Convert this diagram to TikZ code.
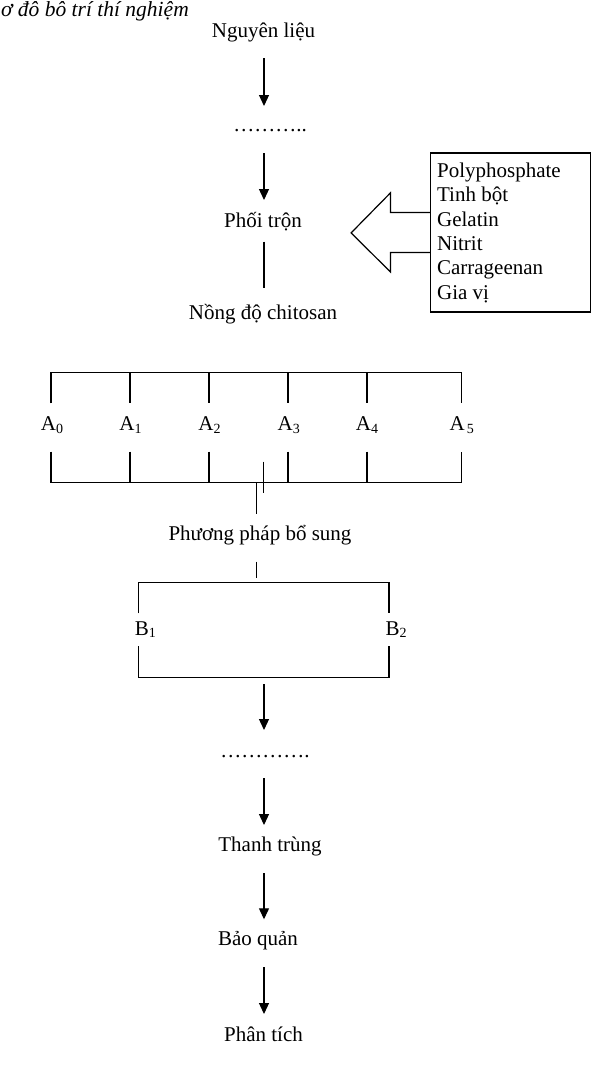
\documentclass[tikz,border=0pt]{standalone}
\usepackage{fontspec}
\setmainfont{Liberation Serif}
\usetikzlibrary{arrows.meta,calc}
\newcommand{\sbs}[2]{#1\raisebox{-2.5pt}{\fontsize{14}{14}\selectfont #2}}
\begin{document}
\begin{tikzpicture}[x=1pt,y=-1pt,line width=1.2pt,
  txt/.style={font=\fontsize{21}{25}\selectfont,inner sep=0pt,anchor=base},
  arr/.style={-{Triangle[width=10pt,length=11pt]}}]
\useasboundingbox (0,0) rectangle (599,1080);
% title
\node[font=\fontsize{21.5}{25}\selectfont\itshape,inner sep=0pt,anchor=base west] (title) at (0.5,16) {ơ đô bô trí thí nghiệm};
% column axis
\coordinate (axis) at (264,0);
% main column nodes
\node[txt] (n1) at (263.5,37) {Nguyên liệu};
\node[txt] (d1) at (270,131.7) {………..};
\node[txt] (n2) at (263,227) {Phối trộn};
\node[txt] (n3) at (263,319) {Nồng độ chitosan};
\node[txt] (n4) at (260,540) {Phương pháp bổ sung};
\node[txt] (d2) at (265,757.7) {………….};
\node[txt] (n5) at (270,851.7) {Thanh trùng};
\node[txt] (n6) at (258,945.7) {Bảo quản};
\node[txt] (n7) at (263.5,1041) {Phân tích};
% arrows
\draw[arr] ([yshift=-21pt]axis |- n1.base) -- ([yshift=25.7pt]axis |- d1.base);
\draw[arr] ([yshift=-21.3pt]axis |- d1.base) -- ([yshift=27pt]axis |- n2.base);
\draw ([yshift=-14.7pt]axis |- n2.base) -- ([yshift=30.7pt]axis |- n3.base);
% additive box
\node[draw,minimum width=160pt,minimum height=159pt,inner sep=0pt] (box) at (510.7,232.5) {};
\foreach \t [count=\i] in {Polyphosphate,Tinh bột,Gelatin,Nitrit,Carrageenan,Gia vị}
  \node[txt,anchor=base west] (it\i) at (436.5,{177.3+24.4*(\i-1)}) {\t};
\draw[line join=miter] ([yshift=20pt]box.west) -- ++(-39.7,0) -- ++(0,-19.6) -- ++(-39.3,40)
  -- ++(39.3,39) -- ++(0,-19.4) -- ++(39.7,0);
% A bracket
\node[txt] (a0) at (52,430.7) {\sbs{A}{0}};
\node[txt] (a1) at (130.5,430.7) {\sbs{A}{1}};
\node[txt] (a2) at (209.5,430.7) {\sbs{A}{2}};
\node[txt] (a3) at (288.8,430.7) {\sbs{A}{3}};
\node[txt] (a4) at (367,430.7) {\sbs{A}{4}};
\node[txt] (a5) at (461.7,430.7) {\sbs{A\hspace{2pt}}{5}};
\draw (51,403.3) -- (51,372.3) -- (461.7,372.3) -- (461.7,403.3);
\draw (51,451.7) -- (51,482.7) -- (461.7,482.7) -- (461.7,451.7);
\foreach \x in {130,209,288,367}{
  \draw (\x,372.3) -- (\x,403.3);
  \draw (\x,451.7) -- (\x,482.7);
}
\draw (263.3,461.7) -- (263.3,493.3);
\draw (256.7,483.3) -- (256.7,514);
\draw (256.7,561.7) -- (256.7,577.7);
% B bracket
\node[txt,anchor=base west] (b1) at (134.3,635) {\sbs{B}{1}};
\node[txt,anchor=base west] (b2) at (385,635) {\sbs{B}{2}};
\draw (138.3,613.3) -- (138.3,582.7) -- (389,582.7) -- (389,613.3);
\draw (138.3,646) -- (138.3,677.3) -- (389,677.3) -- (389,646);
\coordinate (bb) at (264,677.3);
\draw[arr] ([yshift=-6.7pt]bb) -- ([yshift=27.7pt]axis |- d2.base);
\draw[arr] ([yshift=-20.6pt]axis |- d2.base) -- ([yshift=26.7pt]axis |- n5.base);
\draw[arr] ([yshift=-21.3pt]axis |- n5.base) -- ([yshift=26.4pt]axis |- n6.base);
\draw[arr] ([yshift=-21.3pt]axis |- n6.base) -- ([yshift=27pt]axis |- n7.base);
\end{tikzpicture}
\end{document}
